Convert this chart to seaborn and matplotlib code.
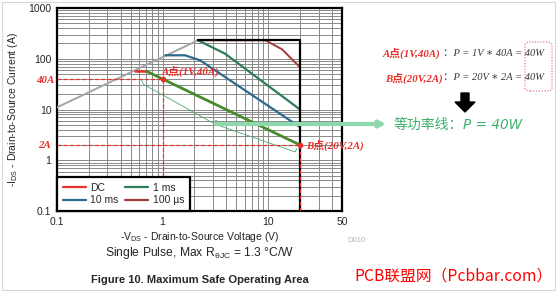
import matplotlib
matplotlib.use("Agg")
import matplotlib.pyplot as plt
import seaborn as sns
import pandas as pd
from matplotlib.lines import Line2D
from matplotlib.patches import FancyArrowPatch, FancyBboxPatch, Polygon, Rectangle

# ---------------- data ----------------
gray_v = [0.1, 2.16]
gray_i = [11, 231]
us100_v = [2.16, 9.4, 13.5, 20]
us100_i = [231, 231, 154, 68]
black_v = [2.16, 20, 20]
black_i = [231, 231, 0.1]
ms1_v = [2.16, 3.9, 20]
ms1_i = [231, 126, 10]
ms10_v = [1.06, 1.63, 2.27, 20]
ms10_i = [117, 117, 93, 4.5]
dc_v = [0.55, 0.70]
dc_i = [57, 57]
p40_v = [0.70, 20]
p40_i = [57, 2.0]
bracket_v = [0.635, 0.658, 3.15, 3.21, 3.15, 18.0, 18.7]
bracket_i = [37.7, 31.4, 5.12, 6.14, 5.12, 1.46, 1.70]
pointA = (1, 40)
pointB = (20, 2)

xticks = [0.1, 1, 10, 50]
xticklabels = ["0.1", "1", "10", "50"]
yticks = [0.1, 1, 10, 100, 1000]
yticklabels = ["0.1", "1", "10", "100", "1000"]
legend_labels = ["DC", "10 ms", "1 ms", "100 µs"]

C_DC = "#E5322B"
C_10 = "#2E6A8C"
C_1 = "#2E7D57"
C_100 = "#A33A33"
C_P40 = "#4A8A2C"
C_GRAY = "#A5A5A5"
C_RED = "#E8302A"

sns.set_style("white")
plt.rcParams["font.family"] = ["Liberation Sans", "Noto Sans CJK SC", "DejaVu Sans"]
plt.rcParams["mathtext.default"] = "regular"

W, H = 558, 293
fig = plt.figure(figsize=(W / 100, H / 100), dpi=100)

def px(x, y):
    return (x / W, 1 - y / H)

AX_L, AX_R, AX_T, AX_B = 57, 342, 8, 211
ax = fig.add_axes([AX_L / W, 1 - AX_B / H, (AX_R - AX_L) / W, (AX_B - AX_T) / H])
ax.set_xscale("log")
ax.set_yscale("log")
ax.set_xlim(0.1, 50)
ax.set_ylim(0.1, 1000)

# grid
ax.grid(True, which="both", color="#8a8a8a", lw=0.7)
ax.set_axisbelow(True)

def draw(v, i, color, lw=1.6, z=3):
    df = pd.DataFrame({"v": v, "i": i})
    sns.lineplot(data=df, x="v", y="i", ax=ax, color=color, lw=lw,
                 sort=False, estimator=None, zorder=z, legend=False)

draw(gray_v, gray_i, C_GRAY, 1.4)
draw(us100_v, us100_i, C_100, 1.4)
draw(ms1_v, ms1_i, C_1, 1.6)
draw(ms10_v, ms10_i, C_10, 1.6)
draw(dc_v, dc_i, C_DC, 1.8)
draw(p40_v, p40_i, C_P40, 2.0, 4)
draw(black_v, black_i, "black", 1.6, 5)
draw(bracket_v, bracket_i, "#4DAA6E", 0.6, 4)

# red dashed guides
dash = dict(color=C_RED, lw=0.9, ls=(0, (3, 2)), zorder=6)
ax.plot([0.1, pointA[0]], [pointA[1], pointA[1]], **dash)
ax.plot([pointA[0], pointA[0]], [pointA[1], 0.1], **dash)
ax.plot([0.1, pointB[0]], [pointB[1], pointB[1]], **dash)
ax.plot([pointB[0], pointB[0]], [pointB[1], 0.1], **dash)
ax.scatter([pointA[0], pointB[0]], [pointA[1], pointB[1]], color=C_RED, s=9, zorder=7)

SERIF = ["Liberation Serif", "Noto Sans CJK SC", "DejaVu Serif", "DejaVu Sans"]
rfont = dict(family=SERIF, style="italic", weight="bold", color=C_RED, fontsize=7.8)
ax.text(0.98, 44, "A点(1V,40A)", ha="left", va="bottom", **rfont)
ax.text(23, 2.0, "B点(20V,2A)", ha="left", va="center", **rfont)
fig.text(*px(54, 80), "40A", ha="right", va="center", **rfont)
fig.text(*px(51, 145), "2A", ha="right", va="center", **rfont)

ax.set_xticks(xticks)
ax.set_xticklabels(xticklabels)
ax.set_yticks(yticks)
ax.set_yticklabels(yticklabels)
ax.minorticks_on()
ax.tick_params(which="both", length=0, labelsize=7.5, pad=4)
ax.xaxis.set_minor_formatter(plt.NullFormatter())
ax.yaxis.set_minor_formatter(plt.NullFormatter())
for s in ax.spines.values():
    s.set_color("black")
    s.set_linewidth(1.6)
    s.set_visible(True)

ax.set_xlabel(r"-V$_{DS}$ - Drain-to-Source Voltage (V)", fontsize=7.5)
ax.set_ylabel(r"-I$_{DS}$ - Drain-to-Source Current (A)", fontsize=7.5)
ax.xaxis.set_label_coords(0.5, (AX_B - 237) / (AX_B - AX_T))
ax.yaxis.set_label_coords((13 - AX_L) / (AX_R - AX_L), 0.5)
ax.xaxis.label.set_va("center")
ax.yaxis.label.set_va("center")

handles = [Line2D([], [], color=c, lw=1.6) for c in [C_DC, C_10, C_1, C_100]]
leg = ax.legend(handles, legend_labels, loc="lower left", bbox_to_anchor=(0, 0),
                borderaxespad=0, ncol=2, fontsize=7.5, frameon=True, fancybox=False,
                framealpha=1, edgecolor="black", handlelength=2.2, columnspacing=0.7,
                labelspacing=0.25, borderpad=0.55, handletextpad=0.4)
leg.get_frame().set_linewidth(1.6)
leg.set_zorder(10)

fig.text(*px(200, 253), r"Single Pulse, Max R$_{θJC}$ = 1.3 °C/W", ha="center",
         va="center", fontsize=8.7)
fig.text(*px(200, 280), "Figure 10. Maximum Safe Operating Area", ha="center",
         va="center", fontsize=8, weight="bold")
fig.text(*px(347, 241), "D010", ha="left", va="center", fontsize=5.5, color="#b5b5b5")

# thick green arrow
fig.patches.append(FancyArrowPatch(px(213, 124), px(389, 124), transform=fig.transFigure,
                                   arrowstyle="-|>", mutation_scale=9, lw=3,
                                   color="#8ED8AC", zorder=8))

# right-side formulas
gfont = dict(family=SERIF, style="italic", color="#3a3a3a", fontsize=7.6)
fig.text(*px(383, 53), "A点(1V,40A)", ha="left", va="center", **rfont)
fig.text(*px(443, 53), "：P = 1V ∗ 40A = 40W", ha="left", va="center", **gfont)
fig.text(*px(385, 78), "B点(20V,2A)", ha="left", va="center", **rfont)
fig.text(*px(443, 78), "：P = 20V ∗ 2A = 40W", ha="left", va="center", **gfont)
x0, y0 = px(525, 91)
x1, y1 = px(552, 42)
fig.patches.append(FancyBboxPatch((x0, y0), x1 - x0, y1 - y0, transform=fig.transFigure,
                                  boxstyle="round,pad=0,rounding_size=0.01",
                                  fill=False, ec="#E06070", lw=0.8, ls=(0, (1, 1.5))))

# black down arrow
arrow_pts = [px(461, 93), px(469, 93), px(469, 102), px(475, 102), px(465, 112),
             px(455, 102), px(461, 102)]
fig.patches.append(Polygon(arrow_pts, closed=True, transform=fig.transFigure,
                           color="black"))

fig.text(*px(394, 125), "等功率线：", ha="left", va="center", fontsize=10,
         color="#3CB06A", family=["Noto Sans CJK SC"])
fig.text(*px(463, 125), "P = 40W", ha="left", va="center", fontsize=9.8,
         color="#3CB06A", family=["DejaVu Sans"], style="italic")

fig.text(*px(553, 276), "PCB联盟网（Pcbbar.com）", ha="right", va="center",
         fontsize=11.3, color="#FF0000", family=["Noto Sans CJK SC"])

# light border
x0, y0 = px(2, 290)
x1, y1 = px(555, 2)
fig.patches.append(Rectangle((x0, y0), x1 - x0, y1 - y0, transform=fig.transFigure,
                             fill=False, ec="#d8d8d8", lw=0.8))

fig.savefig("out.png", dpi=100)
